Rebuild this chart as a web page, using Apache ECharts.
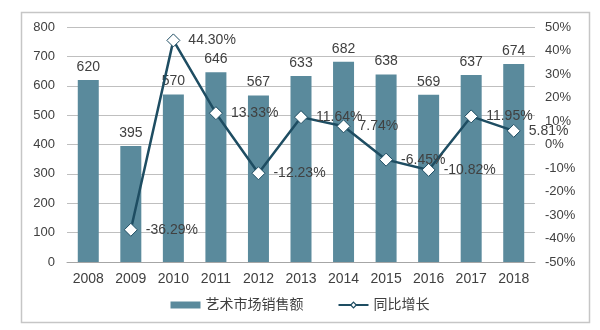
<!DOCTYPE html>
<html><head><meta charset="utf-8">
<script src="https://cdn.jsdelivr.net/npm/echarts@6/dist/echarts.min.js"></script>
<style>html,body{margin:0;padding:0;background:#fff}#c{width:600px;height:330px}</style>
</head><body><div id="c"></div>
<script>
const years = ['2008','2009','2010','2011','2012','2013','2014','2015','2016','2017','2018'];
const sales = [620,395,570,646,567,633,682,638,569,637,674];
const growth = ['-',-36.29,44.30,13.33,-12.23,11.64,7.74,-6.45,-10.82,11.95,5.81];
const leftTicks = [0,100,200,300,400,500,600,700,800];
const rightTicks = [-50,-40,-30,-20,-10,0,10,20,30,40,50];

const font = '"Liberation Sans", Arial, "Noto Sans CJK SC", sans-serif';
const chart = echarts.init(document.getElementById('c'), null, {renderer:'canvas'});
chart.setOption({
  animation:false,
  textStyle:{fontFamily:font},
  graphic:[{type:'rect',shape:{x:21.5,y:12.5,width:568,height:310},style:{fill:'none',stroke:'#c6c6c6',lineWidth:1.5}}],
  grid:{left:67,right:65,top:27,bottom:68},
  legend:{
    bottom:13,left:'center',itemGap:34,
    textStyle:{fontSize:14,color:'#404040',fontFamily:font},
    data:[
      {name:'艺术市场销售额',icon:'rect'},
      {name:'同比增长',itemStyle:{color:'#ffffff',borderColor:'#1e4d62',borderWidth:1.2}}
    ],
    itemWidth:30,itemHeight:7
  },
  xAxis:{type:'category',data:years,
    axisLine:{lineStyle:{color:'#a6a6a6'}},axisTick:{show:false},
    axisLabel:{fontSize:14,color:'#404040',margin:10,fontFamily:font}},
  yAxis:[
    {type:'value',min:0,max:800,interval:100,
     axisLine:{show:false},axisTick:{show:false},
     axisLabel:{fontSize:13,color:'#404040',margin:12,fontFamily:font},
     splitLine:{lineStyle:{color:'#bfbfbf',width:1}}},
    {type:'value',min:-50,max:50,interval:10,
     axisLine:{show:false},axisTick:{show:false},
     axisLabel:{fontSize:13,color:'#404040',margin:10,formatter:'{value}%',fontFamily:font},
     splitLine:{show:false}}
  ],
  series:[
    {name:'艺术市场销售额',type:'bar',data:sales,barWidth:21,
     itemStyle:{color:'#5a8a9c'},
     label:{show:true,position:'top',fontSize:14,color:'#404040',distance:6,fontFamily:font}},
    {name:'同比增长',type:'line',yAxisIndex:1,data:growth,
     symbol:'diamond',symbolSize:13,
     lineStyle:{color:'#1e4d62',width:2.5},
     itemStyle:{color:'#ffffff',borderColor:'#1e4d62',borderWidth:1},
     label:{show:true,position:'right',distance:8,fontSize:14,color:'#404040',formatter:p=>p.value.toFixed(2)+'%',fontFamily:font}}
  ]
});
</script></body></html>
